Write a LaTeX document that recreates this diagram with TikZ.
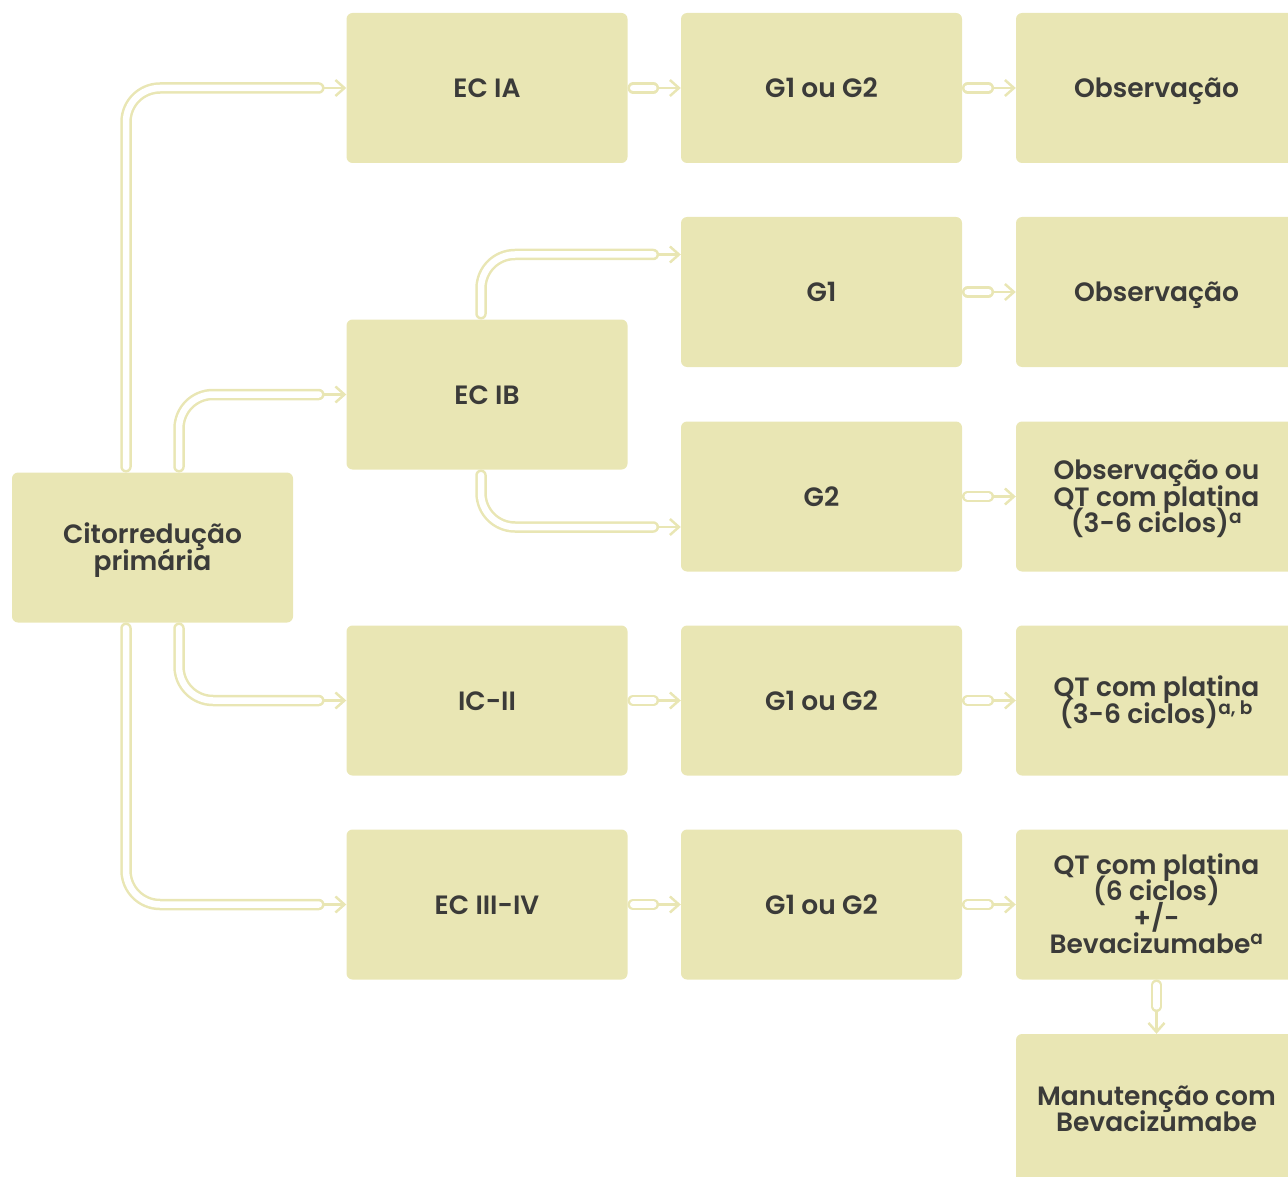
\documentclass[tikz,border=0pt]{standalone}
\usepackage{fontspec}
\setmainfont{Poppins}[BoldFont={Poppins SemiBold}]
\usetikzlibrary{arrows.meta}
\definecolor{boxfill}{HTML}{E9E6B4}
\definecolor{ink}{HTML}{3B3B39}
\newcommand\tightlines{\lineskiplimit=-100pt\relax\lineskip=0pt\relax}
% first and last lines of a stacked label: fixed height, no depth
\newcommand\firstln[1]{\rule{0pt}{19pt}\smash{#1}}
\newcommand\lastln[1]{\smash{#1}}
\begin{document}
\begin{tikzpicture}[x=1pt,y=-1pt,
  box/.style={fill=boxfill, rounded corners=6pt, minimum width=281pt, minimum height=150pt,
    inner sep=0pt, align=center, text=ink,
    font=\fontsize{26.5}{26.5}\selectfont\bfseries\tightlines},
  onebox/.style={box, text height=19pt, text depth=0pt},
  tube/.style={draw=boxfill, line width=2.5pt, double=white, double distance=6.5pt,
    line cap=round, rounded corners=34pt},
  tip/.style={draw=boxfill, line width=2.5pt,
    -{Straight Barb[length=9pt,width=16pt,line width=2.5pt]}}
]
\clip (0,0) rectangle (1288,1177);

% first column
\node[box] (cit) at (152.5,547.5) {\firstln{Citorredução}\\\lastln{primária}};

% stages
\node[onebox] (ecia) at (487,88)    {EC IA};
\node[onebox] (ecib) at (487,394.5) {EC IB};
\node[onebox] (icii) at (487,700.5) {IC-II};
\node[onebox] (ecfour) at (487,904.5) {EC III-IV};

% grades
\node[onebox] (gra) at (821.5,88)    {G1 ou G2};
\node[onebox] (gone) at (821.5,292)   {G1};
\node[onebox] (gtwo) at (821.5,496.5) {G2};
\node[onebox] (grb) at (821.5,700.5) {G1 ou G2};
\node[onebox] (grc) at (821.5,904.5) {G1 ou G2};

% treatment
\node[onebox] (obsa) at (1156.5,88)    {Observação};
\node[onebox] (obsb) at (1156.5,292)   {Observação};
\node[box] (obsqt) at (1156.5,496.5)
  {\firstln{Observação ou}\\QT com platina\\\lastln{(3-6 ciclos)\textsuperscript{a}}};
\node[box] (qtsix) at (1156.5,700.5)
  {\firstln{QT com platina}\\\lastln{(3-6 ciclos)\textsuperscript{a, b}}};
\node[box] (qtbev) at (1156.5,904.5)
  {\firstln{QT com platina}\\(6 ciclos)\\+/-\\\lastln{Bevacizumabe\textsuperscript{a}}};
\node[box] (man) at (1156.5,1109)
  {\firstln{Manutenção com}\\\lastln{Bevacizumabe}};

% branches leaving the first column
\draw[tube] ([xshift=-26.5pt,yshift=5.5pt]cit.north) |- ([xshift=-27.5pt]ecia.west);
\draw[tip]  ([xshift=-22pt]ecia.west) -- (ecia.west);
\draw[tube] ([xshift=26.5pt,yshift=5.5pt]cit.north) |- ([xshift=-27.5pt]ecib.west);
\draw[tip]  ([xshift=-22pt]ecib.west) -- (ecib.west);
\draw[tube] ([xshift=26.5pt,yshift=-5.5pt]cit.south) |- ([xshift=-27.5pt]icii.west);
\draw[tip]  ([xshift=-22pt]icii.west) -- (icii.west);
\draw[tube] ([xshift=-26.5pt,yshift=-5.5pt]cit.south) |- ([xshift=-27.5pt]ecfour.west);
\draw[tip]  ([xshift=-22pt]ecfour.west) -- (ecfour.west);

% EC IB splits into G1 and G2
\draw[tube] ([xshift=-6pt,yshift=5.5pt]ecib.north) |- ([xshift=-27.5pt,yshift=37.5pt]gone.west);
\draw[tip]  ([xshift=-22pt,yshift=37.5pt]gone.west) -- ([yshift=37.5pt]gone.west);
\draw[tube] ([xshift=-6pt,yshift=-5.5pt]ecib.south) |- ([xshift=-27.5pt,yshift=-30.5pt]gtwo.west);
\draw[tip]  ([xshift=-22pt,yshift=-30.5pt]gtwo.west) -- ([yshift=-30.5pt]gtwo.west);

% short links between neighbouring boxes
\foreach \a/\b in {ecia/gra, icii/grb, ecfour/grc, gra/obsa, gone/obsb, gtwo/obsqt, grb/qtsix, grc/qtbev}{
  \draw[tube] ([xshift=5.5pt]\a.east) -- ([xshift=-27.5pt]\b.west);
  \draw[tip]  ([xshift=-22pt]\b.west) -- (\b.west);
}
\draw[tube] ([yshift=-5.5pt]qtbev.south) -- ([yshift=27.5pt]man.north);
\draw[tip]  ([yshift=22pt]man.north) -- (man.north);
\end{tikzpicture}
\end{document}
